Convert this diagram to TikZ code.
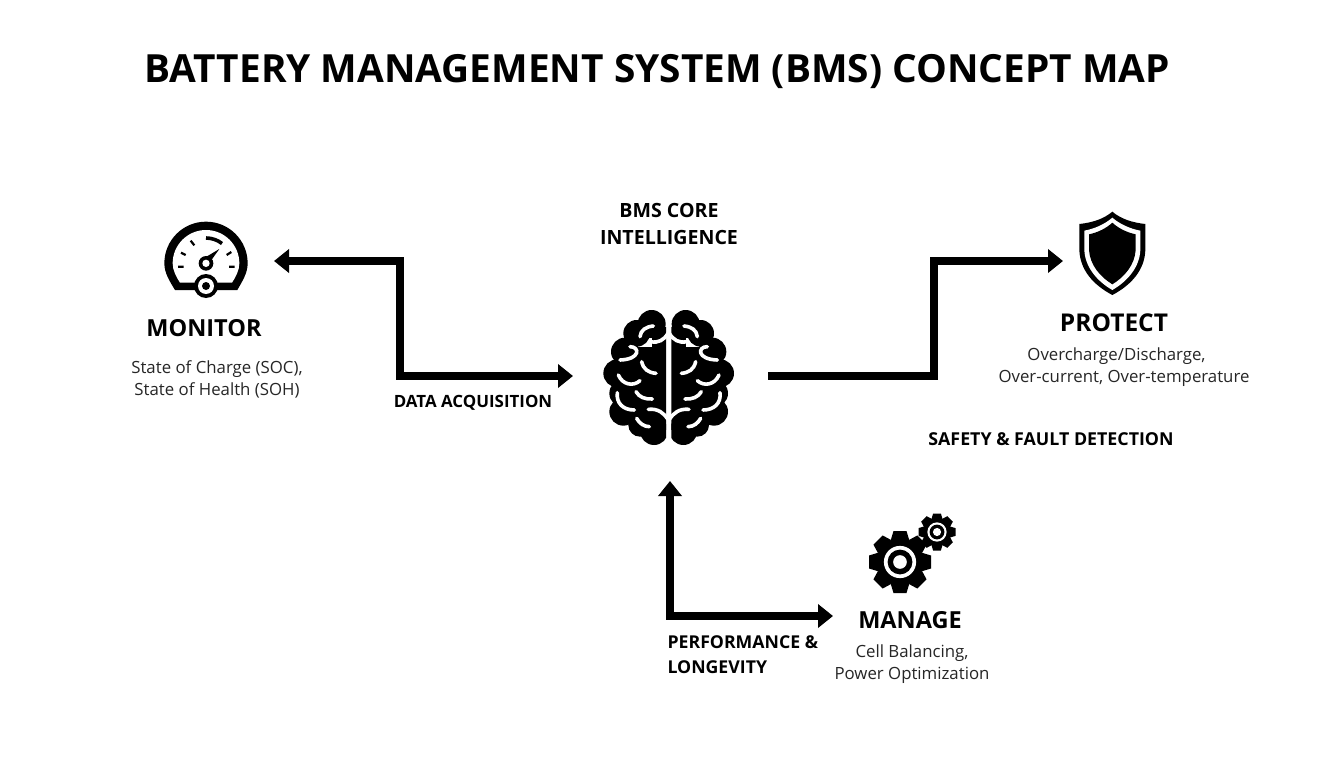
\documentclass[tikz,border=0pt]{standalone}
\usepackage{fontspec}
\setmainfont{Open Sans}
\usetikzlibrary{arrows.meta}

\tikzset{
	gearwheel/.pic = {
		\fill[black] (0,0) circle (#1*0.76);
		\foreach \a in {0,45,...,315}
			\fill[black, rotate=\a] (-#1*0.30,#1*0.70) -- (-#1*0.21,#1) -- (#1*0.21,#1) -- (#1*0.30,#1*0.70) -- cycle;
		\fill[white] (0,0) circle (#1*0.52);
		\fill[black] (0,0) circle (#1*0.40);
		\fill[white] (0,0) circle (#1*0.22);
	}
}

\begin{document}
\begin{tikzpicture}[x=1pt, y=-1pt,
		flow/.style = {line width=8pt, black, >={Triangle[length=15pt, width=23pt]}},
		crease/.style = {line width=3.6pt, white, line cap=round},
		headline/.style = {font=\fontsize{38.8}{39}\selectfont\bfseries},
		heading/.style = {font=\fontsize{23.5}{24}\selectfont\bfseries},
		caption/.style = {font=\fontsize{16.8}{22}\selectfont, text=black!85, align=center},
		tag/.style = {font=\fontsize{17.3}{27}\selectfont\bfseries}]
	\useasboundingbox[fill=white] (0,0) rectangle (1344,768);

	\node[headline] (title) at (657,72) {BATTERY MANAGEMENT SYSTEM (BMS) CONCEPT MAP};

	% gauge
	\begin{scope}[shift={(130,200)}, scale=1/3]
		\fill[black] (135,270) .. controls (120,245) and (103,220) .. (103,190) arc (180:360:125)
			.. controls (353,220) and (336,245) .. (322,270) -- cycle;
		\fill[white] (150,248) .. controls (138,230) and (128,210) .. (128,190) arc (180:360:100)
			.. controls (328,210) and (318,230) .. (306,248) -- cycle;
		\draw[black, line width=2.2pt] (144,200) -- (161,200) (297,200) -- (314,200)
			(153,158) -- (167,165) (304,156) -- (290,165) (182,122) -- (193,136);
		\draw[black, line width=3.6pt] (228,114) arc (270:308:78);
		\fill[black] (268,147) -- (240,186) -- (226,172) -- cycle;
		\fill[black] (228,190) circle (22);
		\fill[white] (228,190) circle (11);
		\fill[black] (228,258) circle (36);
		\fill[white] (228,258) circle (24);
		\fill[black] (228,258) circle (12);
	\end{scope}

	% brain, the right half is the left one mirrored
	\begin{scope}[shift={(580,290)}, scale=1/3]
		\foreach \s/\o in {1/0, -1/532} {
			\begin{scope}[shift={(\o,0)}, xscale=\s]
				\begin{scope}
					\clip (0,0) rectangle (258,520);
					\foreach \cx/\cy/\r in {215/102/42, 170/130/40, 135/185/42, 112/250/42, 130/310/42,
							130/365/42, 180/405/35, 222/423/42}
						\fill[black] (\cx,\cy) circle (\r);
					\fill[black] (215,110) rectangle (260,420);
					\fill[black] (130,170) rectangle (215,400);
				\end{scope}
				\draw[crease] (180,140) .. controls (182,120) and (198,110) .. (220,108);
				\draw[crease] (212,155) .. controls (235,160) and (252,150) .. (264,130);
				\draw[crease] (150,170) .. controls (180,170) and (182,208) .. (120,210);
				\draw[crease] (185,215) .. controls (190,238) and (205,248) .. (228,250);
				\draw[crease] (115,255) .. controls (128,285) and (160,290) .. (180,272);
				\draw[crease] (168,305) .. controls (178,322) and (195,328) .. (217,327);
				\draw[crease] (112,308) .. controls (108,340) and (130,360) .. (163,360);
				\draw[crease] (205,358) .. controls (235,355) and (252,370) .. (264,388);
				\draw[crease] (170,385) .. controls (178,400) and (192,410) .. (208,410);
			\end{scope}
		}
		\draw[white, line width=3.6pt] (266,120) -- (266,400);
	\end{scope}

	% shield
	\begin{scope}[shift={(1060,200)}, scale=1/3]
		\fill[black] (157,35) .. controls (130,58) and (95,68) .. (58,72) -- (58,150)
			.. controls (60,210) and (100,255) .. (157,285)
			.. controls (214,255) and (254,210) .. (256,150) -- (256,72)
			.. controls (219,68) and (184,58) .. (157,35) -- cycle;
		\fill[white] (157,53) .. controls (135,72) and (105,86) .. (73,92) -- (73,150)
			.. controls (75,200) and (110,243) .. (157,270)
			.. controls (204,243) and (239,200) .. (241,150) -- (241,92)
			.. controls (209,86) and (179,72) .. (157,53) -- cycle;
		\fill[black] (157,68) .. controls (140,84) and (115,97) .. (87,103) -- (87,150)
			.. controls (90,195) and (120,230) .. (157,253)
			.. controls (194,230) and (224,195) .. (227,150) -- (227,103)
			.. controls (199,97) and (174,84) .. (157,68) -- cycle;
	\end{scope}

	% gears
	\pic at (900,562) {gearwheel=31};
	\pic at (937,532) {gearwheel=18.5};

	\node[tag, font=\fontsize{19.6}{27}\selectfont\bfseries, align=center] (core) at (669,224) {BMS CORE\\INTELLIGENCE};
	\node[heading] (monitor) at (204,328) {MONITOR};
	\node[caption] (monitortext) at (217,379) {State of Charge (SOC),\\State of Health (SOH)};
	\node[heading, font=\fontsize{24.5}{24}\selectfont\bfseries] (protect) at (1114,323) {PROTECT};
	\node[caption] (protecttext) at (1124,367) {Overcharge/Discharge,\hspace*{15pt}\\Over-current, Over-temperature};
	\node[heading] (manage) at (910,620) {MANAGE};
	\node[caption] (managetext) at (912,664) {Cell Balancing,\\Power Optimization};
	\node[tag, font=\fontsize{16.9}{27}\selectfont\bfseries] (acquisition) at (473,403) {DATA ACQUISITION};
	\node[tag, font=\fontsize{17.8}{27}\selectfont\bfseries] (safety) at (1051,439) {SAFETY \& FAULT DETECTION};
	\node[tag, font=\fontsize{17.7}{25}\selectfont\bfseries, align=left, anchor=west] (performance) at (664,655) {PERFORMANCE \&\\LONGEVITY};

	\coordinate (gaugeend) at (274,261);
	\coordinate (brainin) at (573,376);
	\coordinate (brainout) at (768,376);
	\coordinate (shieldend) at (1063,261);
	\coordinate (brainlow) at (670,481);
	\coordinate (gearend) at (833,616);

	\draw[flow, <->] (gaugeend) -- (400,261) -- (400,376) -- (brainin);
	\draw[flow, ->] (brainout) -- (934,376) -- (934,261) -- (shieldend);
	\draw[flow, <->] (brainlow) -- (670,616) -- (gearend);
\end{tikzpicture}
\end{document}
